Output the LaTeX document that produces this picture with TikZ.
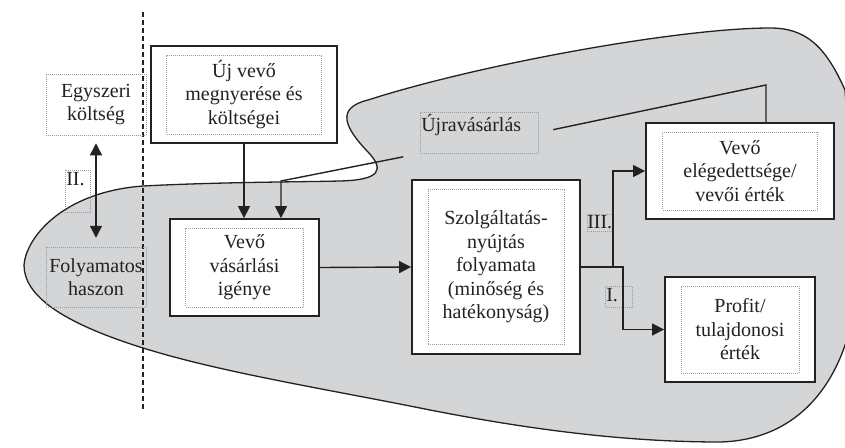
\documentclass[tikz,border=0pt]{standalone}
\usepackage{fontspec}
\setmainfont{Liberation Serif}
\usepackage{xcolor}
\usepackage{tikz}
\usetikzlibrary{positioning, arrows.meta}
\definecolor{BlobGray}{HTML}{D4D5D7}
\definecolor{FrameGray}{HTML}{9C9C9C}
\definecolor{InkBlack}{HTML}{222222}

\begin{document}
\begin{tikzpicture}[
            x=1pt, y=-1pt,
            font=\fontsize{20}{23.5}\selectfont,
            outbox/.style={draw=InkBlack, line width=1.8pt, fill=white, inner sep=0pt},
            inbox/.style={draw=FrameGray, line width=0.5pt, dash pattern=on 1pt off 1pt, align=center, text=InkBlack, inner sep=1pt},
            tag/.style={draw=FrameGray, line width=0.5pt, dash pattern=on 1pt off 1pt, text=InkBlack, inner sep=1pt},
            arrow/.style={-{Triangle[length=12pt, width=12pt]}, line width=1.4pt, InkBlack},
            dblarrow/.style={{Triangle[length=12pt, width=12pt]}-{Triangle[length=12pt, width=12pt]}, line width=1.4pt, InkBlack},
            link/.style={line width=1.4pt, InkBlack}
        ]

            \useasboundingbox (0,0) rectangle (845,447);

            \begin{scope}
                \clip (0,0) rectangle (845,447);
                \filldraw[fill=BlobGray, draw=InkBlack, line width=1.3pt]
                    (24,265) .. controls (26,238) and (62,192) .. (143,186)
                    .. controls (220,182) and (300,182) .. (340,181)
                    .. controls (380,180) and (385,170) .. (368,152)
                    .. controls (345,128) and (335,108) .. (368,100)
                    .. controls (480,64) and (680,28) .. (770,28)
                    .. controls (805,28) and (825,45) .. (845,90)
                    -- (858,280)
                    .. controls (850,380) and (800,440) .. (720,442)
                    .. controls (620,442) and (520,428) .. (420,408)
                    .. controls (320,388) and (220,372) .. (143,348)
                    .. controls (60,322) and (24,295) .. (24,265) -- cycle;
            \end{scope}

            \coordinate (divtop) at (143,12);
            \coordinate (divbot) at (143,410);
            \draw[InkBlack, line width=1.6pt, dash pattern=on 5pt off 3pt] (divtop) -- (divbot);

            \node[outbox, minimum width=186pt, minimum height=97pt] (newcust) at (244,94.5) {};
            \node[inbox, minimum width=155pt, minimum height=79pt] (newcusttxt) at (newcust) {Új vevő\\megnyerése és\\költségei};

            \node[outbox, minimum width=149pt, minimum height=97pt] (demand) at (244.5,267.5) {};
            \node[inbox, minimum width=118pt, minimum height=79pt] (demandtxt) at (demand) {Vevő\\vásárlási\\igénye};

            \node[outbox, minimum width=168pt, minimum height=174pt] (serv) at (496,267) {};
            \node[inbox, minimum width=136pt, minimum height=155pt] (servtxt) at (serv) {Szolgáltatás-\\nyújtás\\folyamata\\(minőség és\\hatékonyság)};

            \node[outbox, minimum width=188pt, minimum height=96pt] (sat) at (740,171) {};
            \node[inbox, minimum width=155pt, minimum height=78pt] (sattxt) at (sat) {Vevő\\elégedettsége/\\vevői érték};

            \node[outbox, minimum width=150pt, minimum height=105pt] (profit) at (740,329.5) {};
            \node[inbox, minimum width=118pt, minimum height=87pt] (profittxt) at (profit) {Profit/\\tulajdonosi\\érték};

            \node[tag, align=center, minimum width=100pt, minimum height=61pt] (once) at (96,104.5) {Egyszeri\\költség};
            \node[tag, align=center, minimum width=100pt, minimum height=60pt] (cont) at (96,277) {Folyamatos\\haszon};
            \node[tag, anchor=north west, text width=23pt, align=left, text height=14pt, text depth=26pt] (two) at (65,170) {II.};
            \node[tag, anchor=north west, inner sep=0pt, text height=14pt, text depth=3pt] (three) at (587,214) {III.};
            \node[tag, anchor=north west, text width=25pt, align=left, text height=14pt, text depth=5pt] (one) at (605,286) {I.};
            \node[tag, anchor=north west, text width=116pt, align=left, text height=18pt, text depth=21pt] (rebuy) at (420,112) {Újravásárlás};

            \coordinate (rbtop) at (766,85);
            \coordinate (rbbend) at (281,181);

            \draw[dblarrow, shorten <=8pt, shorten >=9pt] (once.south) -- (cont.north);
            \draw[arrow] (newcust.south) -- (newcust.south |- demand.north);
            \draw[link, shorten >=15pt] (sat.north -| rbtop) -- (rbtop) -- (rebuy.east);
            \draw[arrow, shorten <=17pt] (rebuy.south west) -- (rbbend) -- (rbbend |- demand.north);
            \draw[arrow] (demand.east) -- (serv.west);
            \draw[arrow] (serv.east) -- ++(32,0) |- (sat.west);
            \draw[arrow] (serv.east) -- ++(42,0) |- (profit.west);

        \end{tikzpicture}
\end{document}
